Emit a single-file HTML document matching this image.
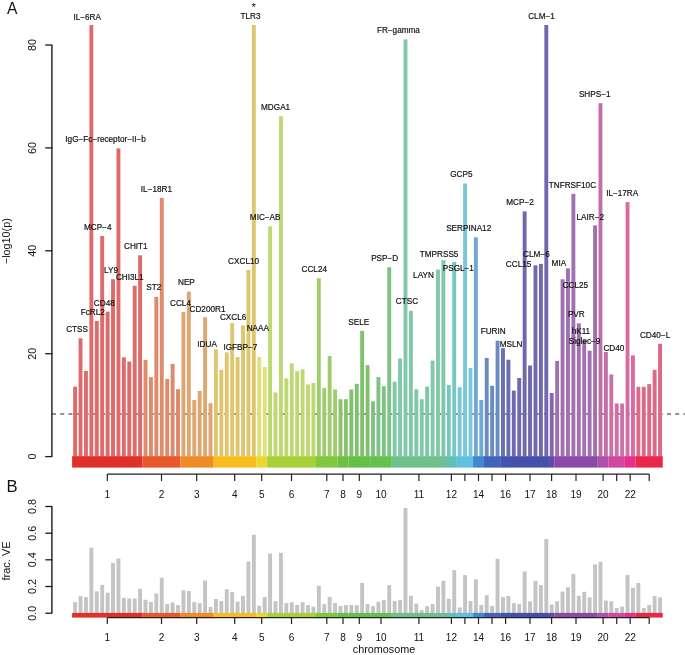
<!DOCTYPE html><html><head><meta charset="utf-8"><style>html,body{margin:0;padding:0;background:#fff;}svg{display:block;will-change:transform;}text{font-family:"Liberation Sans",sans-serif;fill:#111;}.lb{stroke:#111;stroke-width:0.18px;}</style></head><body>
<svg width="685" height="655" viewBox="0 0 685 655">
<rect x="0" y="0" width="685" height="655" fill="#fff"/>
<line x1="52" y1="414" x2="685" y2="414" stroke="#2a2a2a" stroke-width="1.2" stroke-dasharray="4 4.2"/>
<rect x="73.16" y="386.6" width="3.9" height="70.0" fill="#de6a6a"/>
<rect x="78.58" y="338.3" width="3.9" height="118.3" fill="#de6a6a"/>
<rect x="83.99" y="370.9" width="3.9" height="85.7" fill="#de6a6a"/>
<rect x="89.41" y="25.1" width="3.9" height="431.5" fill="#de6a6a"/>
<rect x="94.82" y="321.0" width="3.9" height="135.6" fill="#de6a6a"/>
<rect x="100.24" y="236.0" width="3.9" height="220.6" fill="#de6a6a"/>
<rect x="105.66" y="311.7" width="3.9" height="144.9" fill="#de6a6a"/>
<rect x="111.07" y="279.2" width="3.9" height="177.4" fill="#de6a6a"/>
<rect x="116.49" y="148.4" width="3.9" height="308.2" fill="#de6a6a"/>
<rect x="121.90" y="357.3" width="3.9" height="99.3" fill="#de6a6a"/>
<rect x="127.32" y="361.5" width="3.9" height="95.1" fill="#de6a6a"/>
<rect x="132.74" y="285.8" width="3.9" height="170.8" fill="#de6a6a"/>
<rect x="138.15" y="255.3" width="3.9" height="201.3" fill="#de6a6a"/>
<rect x="143.57" y="359.9" width="3.9" height="96.7" fill="#de8a6c"/>
<rect x="148.98" y="377.1" width="3.9" height="79.5" fill="#de8a6c"/>
<rect x="154.40" y="296.8" width="3.9" height="159.8" fill="#de8a6c"/>
<rect x="159.82" y="197.9" width="3.9" height="258.7" fill="#de8a6c"/>
<rect x="165.23" y="379.0" width="3.9" height="77.6" fill="#de8a6c"/>
<rect x="170.65" y="363.9" width="3.9" height="92.7" fill="#de8a6c"/>
<rect x="176.06" y="389.2" width="3.9" height="67.4" fill="#de8a6c"/>
<rect x="181.48" y="312.1" width="3.9" height="144.5" fill="#dea670"/>
<rect x="186.90" y="291.5" width="3.9" height="165.1" fill="#dea670"/>
<rect x="192.31" y="400.0" width="3.9" height="56.6" fill="#dea670"/>
<rect x="197.73" y="391.0" width="3.9" height="65.6" fill="#dea670"/>
<rect x="203.14" y="317.2" width="3.9" height="139.4" fill="#dea670"/>
<rect x="208.56" y="403.1" width="3.9" height="53.5" fill="#dea670"/>
<rect x="213.98" y="349.3" width="3.9" height="107.3" fill="#dec66e"/>
<rect x="219.39" y="369.8" width="3.9" height="86.8" fill="#dec66e"/>
<rect x="224.81" y="352.4" width="3.9" height="104.2" fill="#dec66e"/>
<rect x="230.22" y="323.0" width="3.9" height="133.6" fill="#dec66e"/>
<rect x="235.64" y="357.0" width="3.9" height="99.6" fill="#dec66e"/>
<rect x="241.06" y="325.4" width="3.9" height="131.2" fill="#dec66e"/>
<rect x="246.47" y="269.9" width="3.9" height="186.7" fill="#dec66e"/>
<rect x="251.89" y="25.0" width="3.9" height="431.6" fill="#dec66e"/>
<rect x="257.30" y="357.0" width="3.9" height="99.6" fill="#dee078"/>
<rect x="262.72" y="367.0" width="3.9" height="89.6" fill="#dee078"/>
<rect x="268.14" y="226.3" width="3.9" height="230.3" fill="#bed874"/>
<rect x="273.55" y="392.5" width="3.9" height="64.1" fill="#bed874"/>
<rect x="278.97" y="116.3" width="3.9" height="340.3" fill="#bed874"/>
<rect x="284.38" y="378.4" width="3.9" height="78.2" fill="#bed874"/>
<rect x="289.80" y="363.4" width="3.9" height="93.2" fill="#bed874"/>
<rect x="295.22" y="371.1" width="3.9" height="85.5" fill="#bed874"/>
<rect x="300.63" y="369.2" width="3.9" height="87.4" fill="#bed874"/>
<rect x="306.05" y="384.4" width="3.9" height="72.2" fill="#bed874"/>
<rect x="311.46" y="383.0" width="3.9" height="73.6" fill="#bed874"/>
<rect x="316.88" y="278.2" width="3.9" height="178.4" fill="#a0cc6e"/>
<rect x="322.30" y="388.1" width="3.9" height="68.5" fill="#a0cc6e"/>
<rect x="327.71" y="356.0" width="3.9" height="100.6" fill="#a0cc6e"/>
<rect x="333.13" y="389.5" width="3.9" height="67.1" fill="#a0cc6e"/>
<rect x="338.54" y="399.2" width="3.9" height="57.4" fill="#8ac46a"/>
<rect x="343.96" y="399.2" width="3.9" height="57.4" fill="#8ac46a"/>
<rect x="349.38" y="389.5" width="3.9" height="67.1" fill="#80c06e"/>
<rect x="354.79" y="383.8" width="3.9" height="72.8" fill="#80c06e"/>
<rect x="360.21" y="330.9" width="3.9" height="125.7" fill="#80c06e"/>
<rect x="365.62" y="365.2" width="3.9" height="91.4" fill="#80c06e"/>
<rect x="371.04" y="401.3" width="3.9" height="55.3" fill="#7ec286"/>
<rect x="376.46" y="377.1" width="3.9" height="79.5" fill="#7ec286"/>
<rect x="381.87" y="386.3" width="3.9" height="70.3" fill="#7ec286"/>
<rect x="387.29" y="267.2" width="3.9" height="189.4" fill="#7ec286"/>
<rect x="392.70" y="381.7" width="3.9" height="74.9" fill="#80c8a8"/>
<rect x="398.12" y="358.4" width="3.9" height="98.2" fill="#80c8a8"/>
<rect x="403.54" y="39.4" width="3.9" height="417.2" fill="#80c8a8"/>
<rect x="408.95" y="310.8" width="3.9" height="145.8" fill="#80c8a8"/>
<rect x="414.37" y="389.3" width="3.9" height="67.3" fill="#80c8a8"/>
<rect x="419.78" y="399.2" width="3.9" height="57.4" fill="#80c8a8"/>
<rect x="425.20" y="386.6" width="3.9" height="70.0" fill="#80c8a8"/>
<rect x="430.62" y="360.6" width="3.9" height="96.0" fill="#80c8a8"/>
<rect x="436.03" y="269.6" width="3.9" height="187.0" fill="#80c8a8"/>
<rect x="441.45" y="260.1" width="3.9" height="196.5" fill="#80c8a8"/>
<rect x="446.86" y="385.0" width="3.9" height="71.6" fill="#78c8c0"/>
<rect x="452.28" y="261.9" width="3.9" height="194.7" fill="#78c8c0"/>
<rect x="457.70" y="387.2" width="3.9" height="69.4" fill="#78c8d8"/>
<rect x="463.11" y="183.5" width="3.9" height="273.1" fill="#78c8d8"/>
<rect x="468.53" y="367.9" width="3.9" height="88.7" fill="#78c8d8"/>
<rect x="473.94" y="237.3" width="3.9" height="219.3" fill="#70a8d0"/>
<rect x="479.36" y="400.0" width="3.9" height="56.6" fill="#70a8d0"/>
<rect x="484.78" y="357.9" width="3.9" height="98.7" fill="#6a8ac2"/>
<rect x="490.19" y="385.7" width="3.9" height="70.9" fill="#6a8ac2"/>
<rect x="495.61" y="340.6" width="3.9" height="116.0" fill="#6a8ac2"/>
<rect x="501.02" y="348.2" width="3.9" height="108.4" fill="#686eb2"/>
<rect x="506.44" y="359.7" width="3.9" height="96.9" fill="#686eb2"/>
<rect x="511.86" y="390.6" width="3.9" height="66.0" fill="#7068ac"/>
<rect x="517.27" y="378.0" width="3.9" height="78.6" fill="#7068ac"/>
<rect x="522.69" y="211.4" width="3.9" height="245.2" fill="#7068ac"/>
<rect x="528.10" y="365.5" width="3.9" height="91.1" fill="#7068ac"/>
<rect x="533.52" y="265.3" width="3.9" height="191.3" fill="#7068ac"/>
<rect x="538.94" y="263.9" width="3.9" height="192.7" fill="#7068ac"/>
<rect x="544.35" y="25.0" width="3.9" height="431.6" fill="#7068ac"/>
<rect x="549.77" y="393.0" width="3.9" height="63.6" fill="#8468a8"/>
<rect x="555.18" y="361.0" width="3.9" height="95.6" fill="#a070b0"/>
<rect x="560.60" y="279.3" width="3.9" height="177.3" fill="#a070b0"/>
<rect x="566.02" y="268.4" width="3.9" height="188.2" fill="#a070b0"/>
<rect x="571.43" y="193.9" width="3.9" height="262.7" fill="#a070b0"/>
<rect x="576.85" y="323.3" width="3.9" height="133.3" fill="#a070b0"/>
<rect x="582.26" y="340.0" width="3.9" height="116.6" fill="#a070b0"/>
<rect x="587.68" y="350.7" width="3.9" height="105.9" fill="#a070b0"/>
<rect x="593.10" y="225.4" width="3.9" height="231.2" fill="#a070b0"/>
<rect x="598.51" y="103.2" width="3.9" height="353.4" fill="#c070a6"/>
<rect x="603.93" y="352.0" width="3.9" height="104.6" fill="#c070a6"/>
<rect x="609.34" y="374.4" width="3.9" height="82.2" fill="#cc70a8"/>
<rect x="614.76" y="403.5" width="3.9" height="53.1" fill="#cc70a8"/>
<rect x="620.18" y="403.5" width="3.9" height="53.1" fill="#cc70a8"/>
<rect x="625.59" y="202.1" width="3.9" height="254.5" fill="#d86ca0"/>
<rect x="631.01" y="355.3" width="3.9" height="101.3" fill="#d86ca0"/>
<rect x="636.42" y="386.8" width="3.9" height="69.8" fill="#de6888"/>
<rect x="641.84" y="386.8" width="3.9" height="69.8" fill="#de6888"/>
<rect x="647.26" y="384.1" width="3.9" height="72.5" fill="#de6888"/>
<rect x="652.67" y="369.8" width="3.9" height="86.8" fill="#de6888"/>
<rect x="658.09" y="343.8" width="3.9" height="112.8" fill="#de6888"/>
<rect x="72.10" y="456.2" width="70.49" height="11.4" fill="#e0302a"/>
<rect x="142.54" y="456.2" width="37.98" height="11.4" fill="#e8582a"/>
<rect x="180.47" y="456.2" width="32.56" height="11.4" fill="#f08c28"/>
<rect x="212.98" y="456.2" width="43.40" height="11.4" fill="#f8bc20"/>
<rect x="256.33" y="456.2" width="10.89" height="11.4" fill="#e8d830"/>
<rect x="267.17" y="456.2" width="48.82" height="11.4" fill="#a8d038"/>
<rect x="315.93" y="456.2" width="21.72" height="11.4" fill="#80c840"/>
<rect x="337.61" y="456.2" width="10.89" height="11.4" fill="#6cc044"/>
<rect x="348.44" y="456.2" width="21.72" height="11.4" fill="#64c048"/>
<rect x="370.12" y="456.2" width="21.72" height="11.4" fill="#64c050"/>
<rect x="391.79" y="456.2" width="54.23" height="11.4" fill="#70c08c"/>
<rect x="445.98" y="456.2" width="10.89" height="11.4" fill="#60c0b4"/>
<rect x="456.81" y="456.2" width="16.31" height="11.4" fill="#60c0e0"/>
<rect x="473.07" y="456.2" width="10.89" height="11.4" fill="#4288ce"/>
<rect x="483.91" y="456.2" width="16.31" height="11.4" fill="#4064bc"/>
<rect x="500.16" y="456.2" width="10.89" height="11.4" fill="#4254b2"/>
<rect x="511.00" y="456.2" width="37.98" height="11.4" fill="#4650ac"/>
<rect x="548.93" y="456.2" width="5.47" height="11.4" fill="#6848a8"/>
<rect x="554.35" y="456.2" width="43.40" height="11.4" fill="#8a4aa8"/>
<rect x="597.69" y="456.2" width="10.89" height="11.4" fill="#b050a8"/>
<rect x="608.53" y="456.2" width="16.31" height="11.4" fill="#d048a0"/>
<rect x="624.79" y="456.2" width="10.89" height="11.4" fill="#e8308a"/>
<rect x="635.62" y="456.2" width="27.14" height="11.4" fill="#e82848"/>
<line x1="51.9" y1="45" x2="51.9" y2="456.6" stroke="#1a1a1a" stroke-width="1.4"/>
<line x1="45.2" y1="456.6" x2="52.3" y2="456.6" stroke="#1a1a1a" stroke-width="1.3"/>
<text x="0" y="0" font-size="10.8" text-anchor="middle" transform="translate(36.1 456.6) rotate(-90)">0</text>
<line x1="45.2" y1="353.7" x2="52.3" y2="353.7" stroke="#1a1a1a" stroke-width="1.3"/>
<text x="0" y="0" font-size="10.8" text-anchor="middle" transform="translate(36.1 353.7) rotate(-90)">20</text>
<line x1="45.2" y1="250.8" x2="52.3" y2="250.8" stroke="#1a1a1a" stroke-width="1.3"/>
<text x="0" y="0" font-size="10.8" text-anchor="middle" transform="translate(36.1 250.8) rotate(-90)">40</text>
<line x1="45.2" y1="147.9" x2="52.3" y2="147.9" stroke="#1a1a1a" stroke-width="1.3"/>
<text x="0" y="0" font-size="10.8" text-anchor="middle" transform="translate(36.1 147.9) rotate(-90)">60</text>
<line x1="45.2" y1="45.0" x2="52.3" y2="45.0" stroke="#1a1a1a" stroke-width="1.3"/>
<text x="0" y="0" font-size="10.8" text-anchor="middle" transform="translate(36.1 45.0) rotate(-90)">80</text>
<text x="0" y="0" font-size="10.8" text-anchor="middle" transform="translate(9.5 241.2) rotate(-90)">−log10(p)</text>
<line x1="107.3" y1="474.1" x2="649.2" y2="474.1" stroke="#222" stroke-width="1.3"/>
<line x1="107.3" y1="474.1" x2="107.3" y2="481" stroke="#222" stroke-width="1.2"/>
<text x="107.3" y="497.6" font-size="10" text-anchor="middle">1</text>
<line x1="161.5" y1="474.1" x2="161.5" y2="481" stroke="#222" stroke-width="1.2"/>
<text x="161.5" y="497.6" font-size="10" text-anchor="middle">2</text>
<line x1="196.7" y1="474.1" x2="196.7" y2="481" stroke="#222" stroke-width="1.2"/>
<text x="196.7" y="497.6" font-size="10" text-anchor="middle">3</text>
<line x1="234.7" y1="474.1" x2="234.7" y2="481" stroke="#222" stroke-width="1.2"/>
<text x="234.7" y="497.6" font-size="10" text-anchor="middle">4</text>
<line x1="261.7" y1="474.1" x2="261.7" y2="481" stroke="#222" stroke-width="1.2"/>
<text x="261.7" y="497.6" font-size="10" text-anchor="middle">5</text>
<line x1="291.5" y1="474.1" x2="291.5" y2="481" stroke="#222" stroke-width="1.2"/>
<text x="291.5" y="497.6" font-size="10" text-anchor="middle">6</text>
<line x1="326.8" y1="474.1" x2="326.8" y2="481" stroke="#222" stroke-width="1.2"/>
<text x="326.8" y="497.6" font-size="10" text-anchor="middle">7</text>
<line x1="343.0" y1="474.1" x2="343.0" y2="481" stroke="#222" stroke-width="1.2"/>
<text x="343.0" y="497.6" font-size="10" text-anchor="middle">8</text>
<line x1="359.3" y1="474.1" x2="359.3" y2="481" stroke="#222" stroke-width="1.2"/>
<text x="359.3" y="497.6" font-size="10" text-anchor="middle">9</text>
<line x1="381.0" y1="474.1" x2="381.0" y2="481" stroke="#222" stroke-width="1.2"/>
<text x="381.0" y="497.6" font-size="10" text-anchor="middle">10</text>
<line x1="418.9" y1="474.1" x2="418.9" y2="481" stroke="#222" stroke-width="1.2"/>
<text x="418.9" y="497.6" font-size="10" text-anchor="middle">11</text>
<line x1="451.4" y1="474.1" x2="451.4" y2="481" stroke="#222" stroke-width="1.2"/>
<text x="451.4" y="497.6" font-size="10" text-anchor="middle">12</text>
<line x1="464.9" y1="474.1" x2="464.9" y2="481" stroke="#222" stroke-width="1.2"/>
<line x1="478.5" y1="474.1" x2="478.5" y2="481" stroke="#222" stroke-width="1.2"/>
<text x="478.5" y="497.6" font-size="10" text-anchor="middle">14</text>
<line x1="492.0" y1="474.1" x2="492.0" y2="481" stroke="#222" stroke-width="1.2"/>
<line x1="505.6" y1="474.1" x2="505.6" y2="481" stroke="#222" stroke-width="1.2"/>
<text x="505.6" y="497.6" font-size="10" text-anchor="middle">16</text>
<line x1="530.0" y1="474.1" x2="530.0" y2="481" stroke="#222" stroke-width="1.2"/>
<text x="530.0" y="497.6" font-size="10" text-anchor="middle">17</text>
<line x1="551.6" y1="474.1" x2="551.6" y2="481" stroke="#222" stroke-width="1.2"/>
<text x="551.6" y="497.6" font-size="10" text-anchor="middle">18</text>
<line x1="576.0" y1="474.1" x2="576.0" y2="481" stroke="#222" stroke-width="1.2"/>
<text x="576.0" y="497.6" font-size="10" text-anchor="middle">19</text>
<line x1="603.1" y1="474.1" x2="603.1" y2="481" stroke="#222" stroke-width="1.2"/>
<text x="603.1" y="497.6" font-size="10" text-anchor="middle">20</text>
<line x1="616.7" y1="474.1" x2="616.7" y2="481" stroke="#222" stroke-width="1.2"/>
<line x1="630.2" y1="474.1" x2="630.2" y2="481" stroke="#222" stroke-width="1.2"/>
<text x="630.2" y="497.6" font-size="10" text-anchor="middle">22</text>
<line x1="649.2" y1="474.1" x2="649.2" y2="481" stroke="#222" stroke-width="1.2"/>
<text x="87.2" y="19.6" font-size="8.2" text-anchor="middle" class="lb">IL−6RA</text>
<text x="105.6" y="142.3" font-size="8.2" text-anchor="middle" class="lb">IgG−Fc−receptor−II−b</text>
<text x="97.7" y="229.9" font-size="8.2" text-anchor="middle" class="lb">MCP−4</text>
<text x="135.8" y="248.8" font-size="8.2" text-anchor="middle" class="lb">CHIT1</text>
<text x="156.4" y="191.8" font-size="8.2" text-anchor="middle" class="lb">IL−18R1</text>
<text x="111.0" y="273.1" font-size="8.2" text-anchor="middle" class="lb">LY9</text>
<text x="129.8" y="279.9" font-size="8.2" text-anchor="middle" class="lb">CHI3L1</text>
<text x="153.8" y="290.1" font-size="8.2" text-anchor="middle" class="lb">ST2</text>
<text x="104.3" y="305.8" font-size="8.2" text-anchor="middle" class="lb">CD48</text>
<text x="92.8" y="314.6" font-size="8.2" text-anchor="middle" class="lb">FcRL2</text>
<text x="77.1" y="331.9" font-size="8.2" text-anchor="middle" class="lb">CTSS</text>
<text x="186.4" y="285.2" font-size="8.2" text-anchor="middle" class="lb">NEP</text>
<text x="180.5" y="306.1" font-size="8.2" text-anchor="middle" class="lb">CCL4</text>
<text x="207.5" y="311.8" font-size="8.2" text-anchor="middle" class="lb">CD200R1</text>
<text x="233.1" y="320.1" font-size="8.2" text-anchor="middle" class="lb">CXCL6</text>
<text x="257.8" y="331.1" font-size="8.2" text-anchor="middle" class="lb">NAAA</text>
<text x="207.1" y="346.9" font-size="8.2" text-anchor="middle" class="lb">IDUA</text>
<text x="240.4" y="350.1" font-size="8.2" text-anchor="middle" class="lb">IGFBP−7</text>
<text x="243.6" y="263.6" font-size="8.2" text-anchor="middle" class="lb">CXCL10</text>
<text x="250.5" y="19.2" font-size="8.2" text-anchor="middle" class="lb">TLR3</text>
<text x="265.2" y="219.9" font-size="8.2" text-anchor="middle" class="lb">MIC−AB</text>
<text x="275.6" y="110.2" font-size="8.2" text-anchor="middle" class="lb">MDGA1</text>
<text x="314.3" y="271.8" font-size="8.2" text-anchor="middle" class="lb">CCL24</text>
<text x="358.7" y="324.9" font-size="8.2" text-anchor="middle" class="lb">SELE</text>
<text x="384.7" y="261.1" font-size="8.2" text-anchor="middle" class="lb">PSP−D</text>
<text x="398.4" y="33.0" font-size="8.2" text-anchor="middle" class="lb">FR−gamma</text>
<text x="407.0" y="304.4" font-size="8.2" text-anchor="middle" class="lb">CTSC</text>
<text x="423.5" y="277.6" font-size="8.2" text-anchor="middle" class="lb">LAYN</text>
<text x="439.1" y="256.8" font-size="8.2" text-anchor="middle" class="lb">TMPRSS5</text>
<text x="458.3" y="270.6" font-size="8.2" text-anchor="middle" class="lb">PSGL−1</text>
<text x="461.4" y="177.4" font-size="8.2" text-anchor="middle" class="lb">GCP5</text>
<text x="468.7" y="231.2" font-size="8.2" text-anchor="middle" class="lb">SERPINA12</text>
<text x="493.2" y="334.1" font-size="8.2" text-anchor="middle" class="lb">FURIN</text>
<text x="511.1" y="346.6" font-size="8.2" text-anchor="middle" class="lb">MSLN</text>
<text x="520.0" y="204.9" font-size="8.2" text-anchor="middle" class="lb">MCP−2</text>
<text x="518.6" y="266.6" font-size="8.2" text-anchor="middle" class="lb">CCL15</text>
<text x="536.4" y="257.1" font-size="8.2" text-anchor="middle" class="lb">CLM−6</text>
<text x="541.5" y="19.2" font-size="8.2" text-anchor="middle" class="lb">CLM−1</text>
<text x="558.9" y="265.6" font-size="8.2" text-anchor="middle" class="lb">MIA</text>
<text x="572.4" y="188.3" font-size="8.2" text-anchor="middle" class="lb">TNFRSF10C</text>
<text x="575.4" y="287.6" font-size="8.2" text-anchor="middle" class="lb">CCL25</text>
<text x="576.3" y="316.9" font-size="8.2" text-anchor="middle" class="lb">PVR</text>
<text x="580.9" y="333.8" font-size="8.2" text-anchor="middle" class="lb">hK11</text>
<text x="584.6" y="344.1" font-size="8.2" text-anchor="middle" class="lb">Siglec−9</text>
<text x="590.3" y="219.6" font-size="8.2" text-anchor="middle" class="lb">LAIR−2</text>
<text x="594.7" y="97.2" font-size="8.2" text-anchor="middle" class="lb">SHPS−1</text>
<text x="613.9" y="351.4" font-size="8.2" text-anchor="middle" class="lb">CD40</text>
<text x="622.2" y="196.1" font-size="8.2" text-anchor="middle" class="lb">IL−17RA</text>
<text x="655.1" y="337.8" font-size="8.2" text-anchor="middle" class="lb">CD40−L</text>
<text x="253.7" y="11.1" font-size="11.5" text-anchor="middle">*</text>
<text x="0" y="0" font-size="16.8" transform="translate(6.95 13.6) scale(0.93 1)">A</text>
<text x="0" y="0" font-size="16" transform="translate(6.6 491.7) scale(1.04 1)">B</text>
<rect x="73.16" y="602.2" width="3.9" height="10.8" fill="#c4c4c4"/>
<rect x="78.58" y="596.1" width="3.9" height="16.9" fill="#c4c4c4"/>
<rect x="83.99" y="597.0" width="3.9" height="16.0" fill="#c4c4c4"/>
<rect x="89.41" y="547.7" width="3.9" height="65.3" fill="#c4c4c4"/>
<rect x="94.82" y="591.3" width="3.9" height="21.7" fill="#c4c4c4"/>
<rect x="100.24" y="584.9" width="3.9" height="28.1" fill="#c4c4c4"/>
<rect x="105.66" y="592.7" width="3.9" height="20.3" fill="#c4c4c4"/>
<rect x="111.07" y="562.9" width="3.9" height="50.1" fill="#c4c4c4"/>
<rect x="116.49" y="558.6" width="3.9" height="54.4" fill="#c4c4c4"/>
<rect x="121.90" y="597.8" width="3.9" height="15.2" fill="#c4c4c4"/>
<rect x="127.32" y="598.5" width="3.9" height="14.5" fill="#c4c4c4"/>
<rect x="132.74" y="598.5" width="3.9" height="14.5" fill="#c4c4c4"/>
<rect x="138.15" y="588.9" width="3.9" height="24.1" fill="#c4c4c4"/>
<rect x="143.57" y="599.8" width="3.9" height="13.2" fill="#c4c4c4"/>
<rect x="148.98" y="601.9" width="3.9" height="11.1" fill="#c4c4c4"/>
<rect x="154.40" y="593.4" width="3.9" height="19.6" fill="#c4c4c4"/>
<rect x="159.82" y="577.7" width="3.9" height="35.3" fill="#c4c4c4"/>
<rect x="165.23" y="604.1" width="3.9" height="8.9" fill="#c4c4c4"/>
<rect x="170.65" y="602.5" width="3.9" height="10.5" fill="#c4c4c4"/>
<rect x="176.06" y="605.1" width="3.9" height="7.9" fill="#c4c4c4"/>
<rect x="181.48" y="590.2" width="3.9" height="22.8" fill="#c4c4c4"/>
<rect x="186.90" y="591.0" width="3.9" height="22.0" fill="#c4c4c4"/>
<rect x="192.31" y="602.2" width="3.9" height="10.8" fill="#c4c4c4"/>
<rect x="197.73" y="603.1" width="3.9" height="9.9" fill="#c4c4c4"/>
<rect x="203.14" y="580.5" width="3.9" height="32.5" fill="#c4c4c4"/>
<rect x="208.56" y="607.0" width="3.9" height="6.0" fill="#c4c4c4"/>
<rect x="213.98" y="599.0" width="3.9" height="14.0" fill="#c4c4c4"/>
<rect x="219.39" y="601.1" width="3.9" height="11.9" fill="#c4c4c4"/>
<rect x="224.81" y="589.2" width="3.9" height="23.8" fill="#c4c4c4"/>
<rect x="230.22" y="592.1" width="3.9" height="20.9" fill="#c4c4c4"/>
<rect x="235.64" y="601.7" width="3.9" height="11.3" fill="#c4c4c4"/>
<rect x="241.06" y="595.8" width="3.9" height="17.2" fill="#c4c4c4"/>
<rect x="246.47" y="561.6" width="3.9" height="51.4" fill="#c4c4c4"/>
<rect x="251.89" y="534.8" width="3.9" height="78.2" fill="#c4c4c4"/>
<rect x="257.30" y="605.7" width="3.9" height="7.3" fill="#c4c4c4"/>
<rect x="262.72" y="597.0" width="3.9" height="16.0" fill="#c4c4c4"/>
<rect x="268.14" y="553.6" width="3.9" height="59.4" fill="#c4c4c4"/>
<rect x="273.55" y="601.1" width="3.9" height="11.9" fill="#c4c4c4"/>
<rect x="278.97" y="552.8" width="3.9" height="60.2" fill="#c4c4c4"/>
<rect x="284.38" y="603.0" width="3.9" height="10.0" fill="#c4c4c4"/>
<rect x="289.80" y="602.2" width="3.9" height="10.8" fill="#c4c4c4"/>
<rect x="295.22" y="604.9" width="3.9" height="8.1" fill="#c4c4c4"/>
<rect x="300.63" y="602.2" width="3.9" height="10.8" fill="#c4c4c4"/>
<rect x="306.05" y="605.1" width="3.9" height="7.9" fill="#c4c4c4"/>
<rect x="311.46" y="606.7" width="3.9" height="6.3" fill="#c4c4c4"/>
<rect x="316.88" y="585.8" width="3.9" height="27.2" fill="#c4c4c4"/>
<rect x="322.30" y="604.1" width="3.9" height="8.9" fill="#c4c4c4"/>
<rect x="327.71" y="597.0" width="3.9" height="16.0" fill="#c4c4c4"/>
<rect x="333.13" y="603.0" width="3.9" height="10.0" fill="#c4c4c4"/>
<rect x="338.54" y="605.9" width="3.9" height="7.1" fill="#c4c4c4"/>
<rect x="343.96" y="605.1" width="3.9" height="7.9" fill="#c4c4c4"/>
<rect x="349.38" y="605.1" width="3.9" height="7.9" fill="#c4c4c4"/>
<rect x="354.79" y="605.1" width="3.9" height="7.9" fill="#c4c4c4"/>
<rect x="360.21" y="582.9" width="3.9" height="30.1" fill="#c4c4c4"/>
<rect x="365.62" y="604.1" width="3.9" height="8.9" fill="#c4c4c4"/>
<rect x="371.04" y="606.2" width="3.9" height="6.8" fill="#c4c4c4"/>
<rect x="376.46" y="601.8" width="3.9" height="11.2" fill="#c4c4c4"/>
<rect x="381.87" y="600.1" width="3.9" height="12.9" fill="#c4c4c4"/>
<rect x="387.29" y="585.1" width="3.9" height="27.9" fill="#c4c4c4"/>
<rect x="392.70" y="601.0" width="3.9" height="12.0" fill="#c4c4c4"/>
<rect x="398.12" y="600.1" width="3.9" height="12.9" fill="#c4c4c4"/>
<rect x="403.54" y="507.9" width="3.9" height="105.1" fill="#c4c4c4"/>
<rect x="408.95" y="595.7" width="3.9" height="17.3" fill="#c4c4c4"/>
<rect x="414.37" y="603.6" width="3.9" height="9.4" fill="#c4c4c4"/>
<rect x="419.78" y="610.1" width="3.9" height="2.9" fill="#c4c4c4"/>
<rect x="425.20" y="606.2" width="3.9" height="6.8" fill="#c4c4c4"/>
<rect x="430.62" y="604.1" width="3.9" height="8.9" fill="#c4c4c4"/>
<rect x="436.03" y="586.6" width="3.9" height="26.4" fill="#c4c4c4"/>
<rect x="441.45" y="580.8" width="3.9" height="32.2" fill="#c4c4c4"/>
<rect x="446.86" y="598.8" width="3.9" height="14.2" fill="#c4c4c4"/>
<rect x="452.28" y="570.2" width="3.9" height="42.8" fill="#c4c4c4"/>
<rect x="457.70" y="607.4" width="3.9" height="5.6" fill="#c4c4c4"/>
<rect x="463.11" y="575.1" width="3.9" height="37.9" fill="#c4c4c4"/>
<rect x="468.53" y="601.0" width="3.9" height="12.0" fill="#c4c4c4"/>
<rect x="473.94" y="579.4" width="3.9" height="33.6" fill="#c4c4c4"/>
<rect x="479.36" y="605.0" width="3.9" height="8.0" fill="#c4c4c4"/>
<rect x="484.78" y="595.2" width="3.9" height="17.8" fill="#c4c4c4"/>
<rect x="490.19" y="605.9" width="3.9" height="7.1" fill="#c4c4c4"/>
<rect x="495.61" y="558.8" width="3.9" height="54.2" fill="#c4c4c4"/>
<rect x="501.02" y="597.1" width="3.9" height="15.9" fill="#c4c4c4"/>
<rect x="506.44" y="596.0" width="3.9" height="17.0" fill="#c4c4c4"/>
<rect x="511.86" y="603.1" width="3.9" height="9.9" fill="#c4c4c4"/>
<rect x="517.27" y="604.1" width="3.9" height="8.9" fill="#c4c4c4"/>
<rect x="522.69" y="571.5" width="3.9" height="41.5" fill="#c4c4c4"/>
<rect x="528.10" y="601.3" width="3.9" height="11.7" fill="#c4c4c4"/>
<rect x="533.52" y="580.8" width="3.9" height="32.2" fill="#c4c4c4"/>
<rect x="538.94" y="585.1" width="3.9" height="27.9" fill="#c4c4c4"/>
<rect x="544.35" y="539.0" width="3.9" height="74.0" fill="#c4c4c4"/>
<rect x="549.77" y="604.5" width="3.9" height="8.5" fill="#c4c4c4"/>
<rect x="555.18" y="601.3" width="3.9" height="11.7" fill="#c4c4c4"/>
<rect x="560.60" y="591.6" width="3.9" height="21.4" fill="#c4c4c4"/>
<rect x="566.02" y="587.3" width="3.9" height="25.7" fill="#c4c4c4"/>
<rect x="571.43" y="574.1" width="3.9" height="38.9" fill="#c4c4c4"/>
<rect x="576.85" y="595.7" width="3.9" height="17.3" fill="#c4c4c4"/>
<rect x="582.26" y="591.8" width="3.9" height="21.2" fill="#c4c4c4"/>
<rect x="587.68" y="597.4" width="3.9" height="15.6" fill="#c4c4c4"/>
<rect x="593.10" y="564.4" width="3.9" height="48.6" fill="#c4c4c4"/>
<rect x="598.51" y="561.8" width="3.9" height="51.2" fill="#c4c4c4"/>
<rect x="603.93" y="600.6" width="3.9" height="12.4" fill="#c4c4c4"/>
<rect x="609.34" y="601.3" width="3.9" height="11.7" fill="#c4c4c4"/>
<rect x="614.76" y="608.0" width="3.9" height="5.0" fill="#c4c4c4"/>
<rect x="620.18" y="606.6" width="3.9" height="6.4" fill="#c4c4c4"/>
<rect x="625.59" y="575.0" width="3.9" height="38.0" fill="#c4c4c4"/>
<rect x="631.01" y="587.8" width="3.9" height="25.2" fill="#c4c4c4"/>
<rect x="636.42" y="583.0" width="3.9" height="30.0" fill="#c4c4c4"/>
<rect x="641.84" y="608.0" width="3.9" height="5.0" fill="#c4c4c4"/>
<rect x="647.26" y="605.0" width="3.9" height="8.0" fill="#c4c4c4"/>
<rect x="652.67" y="596.0" width="3.9" height="17.0" fill="#c4c4c4"/>
<rect x="658.09" y="597.4" width="3.9" height="15.6" fill="#c4c4c4"/>
<rect x="72.10" y="612.9" width="70.49" height="4.7" fill="#e0302a"/>
<rect x="142.54" y="612.9" width="37.98" height="4.7" fill="#e8582a"/>
<rect x="180.47" y="612.9" width="32.56" height="4.7" fill="#f08c28"/>
<rect x="212.98" y="612.9" width="43.40" height="4.7" fill="#f8bc20"/>
<rect x="256.33" y="612.9" width="10.89" height="4.7" fill="#e8d830"/>
<rect x="267.17" y="612.9" width="48.82" height="4.7" fill="#a8d038"/>
<rect x="315.93" y="612.9" width="21.72" height="4.7" fill="#80c840"/>
<rect x="337.61" y="612.9" width="10.89" height="4.7" fill="#6cc044"/>
<rect x="348.44" y="612.9" width="21.72" height="4.7" fill="#64c048"/>
<rect x="370.12" y="612.9" width="21.72" height="4.7" fill="#64c050"/>
<rect x="391.79" y="612.9" width="54.23" height="4.7" fill="#70c08c"/>
<rect x="445.98" y="612.9" width="10.89" height="4.7" fill="#60c0b4"/>
<rect x="456.81" y="612.9" width="16.31" height="4.7" fill="#60c0e0"/>
<rect x="473.07" y="612.9" width="10.89" height="4.7" fill="#4288ce"/>
<rect x="483.91" y="612.9" width="16.31" height="4.7" fill="#4064bc"/>
<rect x="500.16" y="612.9" width="10.89" height="4.7" fill="#4254b2"/>
<rect x="511.00" y="612.9" width="37.98" height="4.7" fill="#4650ac"/>
<rect x="548.93" y="612.9" width="5.47" height="4.7" fill="#6848a8"/>
<rect x="554.35" y="612.9" width="43.40" height="4.7" fill="#8a4aa8"/>
<rect x="597.69" y="612.9" width="10.89" height="4.7" fill="#b050a8"/>
<rect x="608.53" y="612.9" width="16.31" height="4.7" fill="#d048a0"/>
<rect x="624.79" y="612.9" width="10.89" height="4.7" fill="#e8308a"/>
<rect x="635.62" y="612.9" width="27.14" height="4.7" fill="#e82848"/>
<line x1="51.9" y1="506.5" x2="51.9" y2="613.2" stroke="#1a1a1a" stroke-width="1.4"/>
<line x1="45.3" y1="613.2" x2="52.3" y2="613.2" stroke="#1a1a1a" stroke-width="1.3"/>
<text x="0" y="0" font-size="10.8" text-anchor="middle" transform="translate(36.1 613.2) rotate(-90)">0.0</text>
<line x1="45.3" y1="586.5" x2="52.3" y2="586.5" stroke="#1a1a1a" stroke-width="1.3"/>
<text x="0" y="0" font-size="10.8" text-anchor="middle" transform="translate(36.1 586.5) rotate(-90)">0.2</text>
<line x1="45.3" y1="559.8" x2="52.3" y2="559.8" stroke="#1a1a1a" stroke-width="1.3"/>
<text x="0" y="0" font-size="10.8" text-anchor="middle" transform="translate(36.1 559.8) rotate(-90)">0.4</text>
<line x1="45.3" y1="533.2" x2="52.3" y2="533.2" stroke="#1a1a1a" stroke-width="1.3"/>
<text x="0" y="0" font-size="10.8" text-anchor="middle" transform="translate(36.1 533.2) rotate(-90)">0.6</text>
<line x1="45.3" y1="506.5" x2="52.3" y2="506.5" stroke="#1a1a1a" stroke-width="1.3"/>
<text x="0" y="0" font-size="10.8" text-anchor="middle" transform="translate(36.1 506.5) rotate(-90)">0.8</text>
<text x="0" y="0" font-size="11" text-anchor="middle" transform="translate(9.8 561) rotate(-90)">frac. VE</text>
<line x1="107.3" y1="617.6" x2="649.2" y2="617.6" stroke="#222" stroke-width="1.3"/>
<line x1="107.3" y1="617.6" x2="107.3" y2="624" stroke="#222" stroke-width="1.2"/>
<text x="107.3" y="641.1" font-size="10" text-anchor="middle">1</text>
<line x1="161.5" y1="617.6" x2="161.5" y2="624" stroke="#222" stroke-width="1.2"/>
<text x="161.5" y="641.1" font-size="10" text-anchor="middle">2</text>
<line x1="196.7" y1="617.6" x2="196.7" y2="624" stroke="#222" stroke-width="1.2"/>
<text x="196.7" y="641.1" font-size="10" text-anchor="middle">3</text>
<line x1="234.7" y1="617.6" x2="234.7" y2="624" stroke="#222" stroke-width="1.2"/>
<text x="234.7" y="641.1" font-size="10" text-anchor="middle">4</text>
<line x1="261.7" y1="617.6" x2="261.7" y2="624" stroke="#222" stroke-width="1.2"/>
<text x="261.7" y="641.1" font-size="10" text-anchor="middle">5</text>
<line x1="291.5" y1="617.6" x2="291.5" y2="624" stroke="#222" stroke-width="1.2"/>
<text x="291.5" y="641.1" font-size="10" text-anchor="middle">6</text>
<line x1="326.8" y1="617.6" x2="326.8" y2="624" stroke="#222" stroke-width="1.2"/>
<text x="326.8" y="641.1" font-size="10" text-anchor="middle">7</text>
<line x1="343.0" y1="617.6" x2="343.0" y2="624" stroke="#222" stroke-width="1.2"/>
<text x="343.0" y="641.1" font-size="10" text-anchor="middle">8</text>
<line x1="359.3" y1="617.6" x2="359.3" y2="624" stroke="#222" stroke-width="1.2"/>
<text x="359.3" y="641.1" font-size="10" text-anchor="middle">9</text>
<line x1="381.0" y1="617.6" x2="381.0" y2="624" stroke="#222" stroke-width="1.2"/>
<text x="381.0" y="641.1" font-size="10" text-anchor="middle">10</text>
<line x1="418.9" y1="617.6" x2="418.9" y2="624" stroke="#222" stroke-width="1.2"/>
<text x="418.9" y="641.1" font-size="10" text-anchor="middle">11</text>
<line x1="451.4" y1="617.6" x2="451.4" y2="624" stroke="#222" stroke-width="1.2"/>
<text x="451.4" y="641.1" font-size="10" text-anchor="middle">12</text>
<line x1="464.9" y1="617.6" x2="464.9" y2="624" stroke="#222" stroke-width="1.2"/>
<line x1="478.5" y1="617.6" x2="478.5" y2="624" stroke="#222" stroke-width="1.2"/>
<text x="478.5" y="641.1" font-size="10" text-anchor="middle">14</text>
<line x1="492.0" y1="617.6" x2="492.0" y2="624" stroke="#222" stroke-width="1.2"/>
<line x1="505.6" y1="617.6" x2="505.6" y2="624" stroke="#222" stroke-width="1.2"/>
<text x="505.6" y="641.1" font-size="10" text-anchor="middle">16</text>
<line x1="530.0" y1="617.6" x2="530.0" y2="624" stroke="#222" stroke-width="1.2"/>
<text x="530.0" y="641.1" font-size="10" text-anchor="middle">17</text>
<line x1="551.6" y1="617.6" x2="551.6" y2="624" stroke="#222" stroke-width="1.2"/>
<text x="551.6" y="641.1" font-size="10" text-anchor="middle">18</text>
<line x1="576.0" y1="617.6" x2="576.0" y2="624" stroke="#222" stroke-width="1.2"/>
<text x="576.0" y="641.1" font-size="10" text-anchor="middle">19</text>
<line x1="603.1" y1="617.6" x2="603.1" y2="624" stroke="#222" stroke-width="1.2"/>
<text x="603.1" y="641.1" font-size="10" text-anchor="middle">20</text>
<line x1="616.7" y1="617.6" x2="616.7" y2="624" stroke="#222" stroke-width="1.2"/>
<line x1="630.2" y1="617.6" x2="630.2" y2="624" stroke="#222" stroke-width="1.2"/>
<text x="630.2" y="641.1" font-size="10" text-anchor="middle">22</text>
<line x1="649.2" y1="617.6" x2="649.2" y2="624" stroke="#222" stroke-width="1.2"/>
<text x="384" y="652.5" font-size="10.8" text-anchor="middle">chromosome</text>
</svg></body></html>
